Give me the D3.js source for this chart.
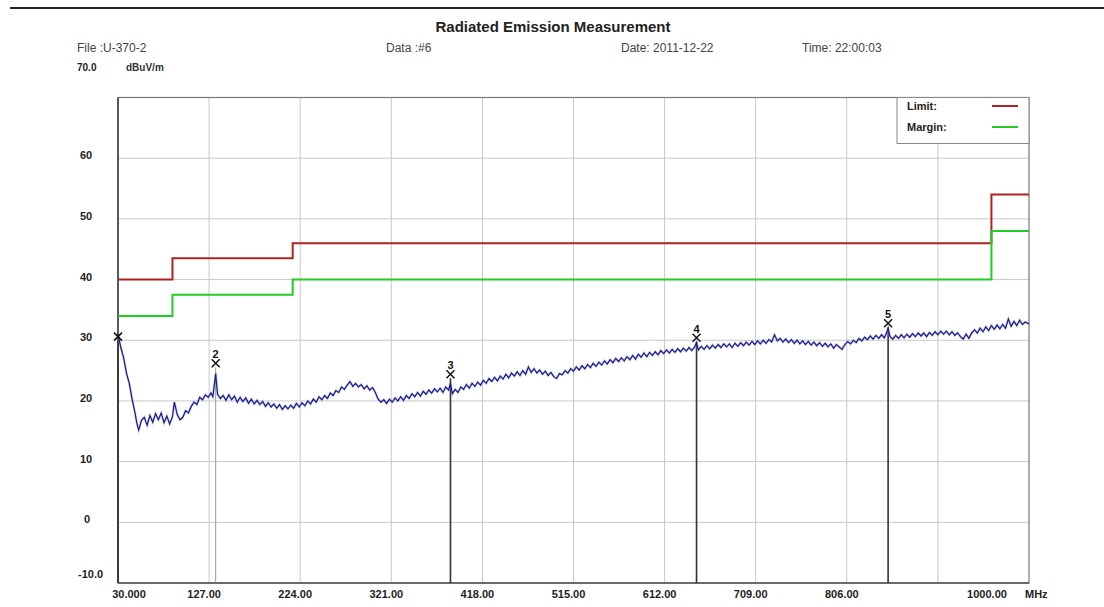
<!DOCTYPE html>
<html><head><meta charset="utf-8">
<script src="https://cdn.jsdelivr.net/npm/d3@7/dist/d3.min.js"></script>
<style>
body{margin:0;background:#fff}
svg{display:block}
text{font-family:"Liberation Sans",Arial,sans-serif}
</style></head>
<body><svg id="c" width="1104" height="607"></svg>
<script>
// ---------- data ----------
const xTicks = [30,127,224,321,418,515,612,709,806,903,1000];
const xTickLabels = ["30.000","127.00","224.00","321.00","418.00","515.00","612.00","709.00","806.00","","1000.00"];
const yGrid = [0,10,20,30,40,50,60];
const yTickLabels = ["0","10","20","30","40","50","60"];
const yBottomLabel = "-10.0";
const yTopLabel = "70.0";

const limitFreq   = [30,88,88,216,216,960,960,1000];
const limitLevel  = [40,40,43.5,43.5,46,46,54,54];
const marginLevel = [34,34,37.5,37.5,40,40,48,48];

const markerId    = [1,2,3,4,5];
const markerFreq  = [30,134,384,646,850];
const markerLevel = [30.6,26.2,24.4,30.4,32.8];

const trace = [
[30,31.0],[33,28.8],[36,27.1],[39,24.6],[42,22.9],[45,20.3],[48,18.1],[50,16.4],[52,15.2],[55,16.8],
[58,17.3],[61,16.0],[64,17.6],[67,16.5],[70,17.9],[73,16.9],[76,18.0],[79,16.4],[82,17.5],[85,16.2],
[88,17.4],[90,19.8],[93,17.8],[96,16.9],[99,17.3],[102,18.4],[105,18.0],[108,19.1],[111,19.8],[114,19.4],
[117,20.6],[120,20.2],[123,21.0],[126,20.6],[129,21.3],[131,20.7],[134,24.5],[136,21.1],[139,20.4],[142,20.9],
[145,20.1],[148,21.0],[151,20.2],[154,20.8],[157,19.8],[160,20.6],[163,19.9],[166,20.5],[169,19.6],[172,20.3],
[175,19.5],[178,20.1],[181,19.4],[184,19.9],[187,19.1],[190,19.7],[193,19.0],[196,19.5],[199,18.8],[202,19.4],
[205,18.6],[208,19.2],[211,18.7],[214,19.3],[217,18.8],[220,19.6],[223,19.0],[226,19.7],[229,19.2],[232,20.0],
[235,19.5],[238,20.3],[241,19.8],[244,20.7],[247,20.2],[250,20.9],[253,20.4],[256,21.3],[259,20.9],[262,21.7],
[265,21.4],[268,22.3],[271,21.9],[274,22.6],[277,23.2],[280,22.4],[283,22.9],[286,22.3],[289,22.7],[292,22.0],
[295,22.5],[298,21.8],[301,22.2],[304,21.4],[307,20.3],[310,19.8],[313,20.2],[316,19.6],[319,20.3],[322,19.8],
[325,20.5],[328,20.0],[331,20.7],[334,20.1],[337,20.9],[340,20.4],[343,21.2],[346,20.7],[349,21.4],[352,20.8],
[355,21.6],[358,21.1],[361,21.8],[364,21.3],[367,22.0],[370,21.5],[373,22.1],[376,21.4],[379,22.3],[382,21.8],
[384,22.9],[386,21.2],[389,21.9],[392,21.4],[395,22.3],[398,21.9],[401,22.7],[404,22.1],[407,22.9],[410,22.4],
[413,23.1],[416,22.6],[419,23.4],[422,22.9],[425,23.7],[428,23.2],[431,23.9],[434,23.3],[437,24.1],[440,23.6],
[443,24.4],[446,23.8],[449,24.6],[452,24.1],[455,24.8],[458,24.2],[461,25.0],[464,24.4],[467,25.6],[470,24.7],
[473,25.3],[476,24.6],[479,25.1],[482,24.4],[485,24.9],[488,24.2],[491,24.7],[494,24.0],[497,23.7],[500,24.5],
[503,24.3],[506,25.0],[509,24.6],[512,25.3],[515,24.9],[518,25.6],[521,25.1],[524,25.8],[527,25.3],[530,26.0],
[533,25.5],[536,26.2],[539,25.7],[542,26.4],[545,25.9],[548,26.6],[551,26.1],[554,26.8],[557,26.3],[560,27.0],
[563,26.5],[566,27.1],[569,26.6],[572,27.3],[575,26.8],[578,27.5],[581,26.9],[584,27.7],[587,27.2],[590,27.9],
[593,27.3],[596,28.0],[599,27.5],[602,28.1],[605,27.6],[608,28.3],[611,27.8],[614,28.4],[617,27.9],[620,28.5],
[623,28.0],[626,28.6],[629,28.1],[632,28.7],[635,28.2],[638,28.8],[641,28.3],[644,28.9],[646,29.6],[648,28.4],
[651,29.0],[654,28.5],[657,29.1],[660,28.6],[663,29.2],[666,28.7],[669,29.3],[672,28.8],[675,29.4],[678,28.9],
[681,29.4],[684,28.8],[687,29.5],[690,29.0],[693,29.6],[696,29.1],[699,29.7],[702,29.2],[705,29.8],[708,29.3],
[711,29.9],[714,29.4],[717,30.0],[720,29.5],[723,30.1],[726,29.7],[729,30.9],[732,29.9],[735,30.3],[738,29.7],
[741,30.2],[744,29.6],[747,30.1],[750,29.5],[753,30.0],[756,29.4],[759,29.9],[762,29.3],[765,29.8],[768,29.2],
[771,29.7],[774,29.1],[777,29.6],[780,29.0],[783,29.5],[786,28.9],[789,29.4],[792,28.7],[795,29.3],[798,28.9],
[801,28.5],[804,29.3],[807,29.8],[810,29.4],[813,30.0],[816,29.6],[819,30.3],[822,29.9],[825,30.5],[828,30.1],
[831,30.7],[834,30.2],[837,30.8],[840,30.3],[843,30.9],[846,30.4],[848,31.1],[850,32.0],[852,30.6],[855,30.2],
[858,30.8],[861,30.3],[864,30.9],[867,30.4],[870,31.0],[873,30.5],[876,31.1],[879,30.6],[882,31.2],[885,30.7],
[888,31.2],[891,30.6],[894,31.3],[897,30.8],[900,31.4],[903,30.9],[906,31.5],[909,31.0],[912,31.5],[915,30.9],
[918,31.4],[921,30.8],[924,31.2],[927,30.6],[930,30.2],[933,31.0],[936,30.3],[939,31.2],[942,31.7],[945,31.2],
[948,32.0],[951,31.4],[954,32.2],[957,31.6],[960,32.4],[963,31.8],[966,32.5],[969,31.9],[972,32.6],[975,32.0],
[978,33.5],[981,32.3],[984,33.1],[987,32.4],[990,33.3],[993,32.6],[996,33.0],[1000,32.7]
];

// ---------- layout ----------
const svg = d3.select("#c");
const x = d3.scaleLinear().domain([30,1000]).range([118,1029]);
const y = d3.scaleLinear().domain([-10,70]).range([583,97.5]);

// header
svg.append("line").attr("x1",10).attr("x2",1104).attr("y1",8).attr("y2",8)
  .attr("stroke","#222").attr("stroke-width",2);
svg.append("text").attr("x",553).attr("y",32).attr("text-anchor","middle")
  .attr("font-size",15).attr("font-weight","bold").attr("fill","#222")
  .text("Radiated Emission Measurement");
const hdr = [["File :U-370-2",77],["Data :#6",386],["Date: 2011-12-22",621],["Time: 22:00:03",802]];
svg.selectAll("text.hdr").data(hdr).join("text").attr("class","hdr")
  .attr("x",d=>d[1]).attr("y",52).attr("font-size",12).attr("fill","#444").text(d=>d[0]);
svg.append("text").attr("x",77).attr("y",71).attr("font-size",10).attr("font-weight","bold").attr("fill","#222").text(yTopLabel);
svg.append("text").attr("x",126).attr("y",71).attr("font-size",10).attr("font-weight","bold").attr("fill","#333").text("dBuV/m");

// grid
const g = svg.append("g");
g.selectAll("line.hg").data(yGrid).join("line").attr("class","hg")
  .attr("x1",x(30)).attr("x2",x(1000)).attr("y1",d=>y(d)).attr("y2",d=>y(d))
  .attr("stroke","#c8c8c8").attr("stroke-width",1);
g.selectAll("line.vg").data(xTicks.slice(1,-1)).join("line").attr("class","vg")
  .attr("y1",y(70)).attr("y2",y(-10)).attr("x1",d=>x(d)).attr("x2",d=>x(d))
  .attr("stroke","#c8c8c8").attr("stroke-width",1);

// frame
g.append("rect").attr("x",x(30)).attr("y",y(70)).attr("width",x(1000)-x(30)).attr("height",y(-10)-y(70))
  .attr("fill","none").attr("stroke","#777").attr("stroke-width",1.2);
g.append("line").attr("x1",x(30)).attr("x2",x(30)).attr("y1",y(70)).attr("y2",y(-10)).attr("stroke","#444").attr("stroke-width",1.6);
g.append("line").attr("x1",x(30)).attr("x2",x(1000)).attr("y1",y(-10)).attr("y2",y(-10)).attr("stroke","#555").attr("stroke-width",1.6);

// y labels
svg.selectAll("text.yl").data(yGrid).join("text").attr("class","yl")
  .attr("x",d=>d===0?84:80).attr("y",(d,i)=>y(d)+1).attr("font-size",11).attr("font-weight","bold").attr("fill","#222")
  .text((d,i)=>yTickLabels[i]);
svg.append("text").attr("x",78).attr("y",y(-10)-5).attr("font-size",11).attr("font-weight","bold").attr("fill","#222").text(yBottomLabel);

// x labels
svg.selectAll("text.xl").data(xTicks).join("text").attr("class","xl")
  .attr("x",(d,i)=> i===0 ? x(d)+11 : (i===xTicks.length-1 ? x(d)-42 : x(d)-5))
  .attr("y",598).attr("text-anchor","middle").attr("font-size",11).attr("font-weight","bold").attr("fill","#222")
  .text((d,i)=>xTickLabels[i]);
svg.append("text").attr("x",1025).attr("y",598).attr("font-size",11).attr("font-weight","bold").attr("fill","#222").text("MHz");

// limit / margin
const stepLine = d3.line().x(d=>x(d[0])).y(d=>y(d[1]));
g.append("path").attr("d",stepLine(limitFreq.map((f,i)=>[f,limitLevel[i]])))
  .attr("fill","none").attr("stroke","#b02020").attr("stroke-width",2);
g.append("path").attr("d",stepLine(limitFreq.map((f,i)=>[f,marginLevel[i]])))
  .attr("fill","none").attr("stroke","#22cc22").attr("stroke-width",2);

// marker stems
g.selectAll("line.ms").data(markerId).join("line").attr("class","ms")
  .attr("x1",(d,i)=>x(markerFreq[i])).attr("x2",(d,i)=>x(markerFreq[i]))
  .attr("y1",(d,i)=>y(markerLevel[i])+4).attr("y2",y(-10))
  .attr("stroke",(d,i)=>i===1?"#999":"#333").attr("stroke-width",(d,i)=>i===1?1:1.6);

// trace
g.append("path").attr("d",stepLine(trace)).attr("fill","none")
  .attr("stroke","#8888dd").attr("stroke-width",2.6).attr("opacity",0.35);
g.append("path").attr("d",stepLine(trace)).attr("fill","none")
  .attr("stroke","#1a1a80").attr("stroke-width",1.2);

// markers X and numbers
const mk = g.selectAll("g.mk").data(markerId).join("g").attr("class","mk")
  .attr("transform",(d,i)=>`translate(${x(markerFreq[i])},${y(markerLevel[i])})`);
mk.append("path").attr("d","M-4,-4L4,4M-4,4L4,-4").attr("stroke","#111").attr("stroke-width",1.5);
mk.filter(d=>d!==1).append("text").attr("x",0).attr("y",-5).attr("text-anchor","middle")
  .attr("font-size",11).attr("font-weight","bold").attr("fill","#111").text(d=>d);

// legend
const lg = svg.append("g");
lg.append("rect").attr("x",897).attr("y",y(70)).attr("width",x(1000)-897).attr("height",46)
  .attr("fill","#fff").attr("stroke","#888").attr("stroke-width",1);
const legItems = [["Limit:","#b02020"],["Margin:","#22cc22"]];
legItems.forEach((it,i)=>{
  lg.append("text").attr("x",907).attr("y",110+i*21).attr("font-size",11).attr("font-weight","bold").attr("fill","#222").text(it[0]);
  lg.append("line").attr("x1",992).attr("x2",1018).attr("y1",106+i*21).attr("y2",106+i*21)
    .attr("stroke",it[1]).attr("stroke-width",2);
});
</script></body></html>
